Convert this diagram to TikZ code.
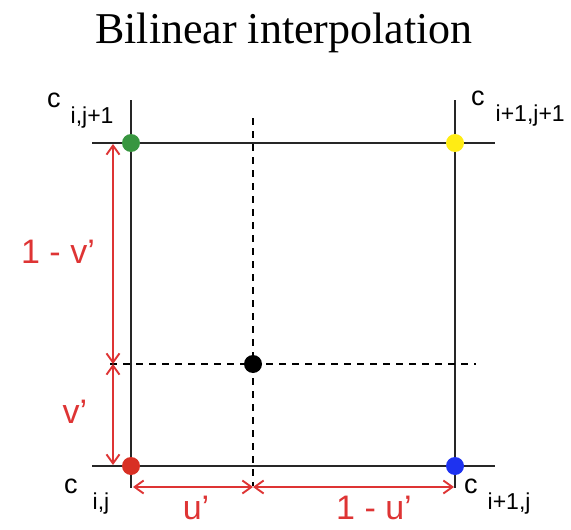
\documentclass[tikz,border=0pt]{standalone}
\usepackage{fontspec}
\setmainfont{Liberation Serif}
\newfontfamily\labelfont{Liberation Sans}
\usetikzlibrary{arrows.meta}
\definecolor{BIRed}{RGB}{222,52,52}
\definecolor{BIGreen}{RGB}{56,150,64}
\definecolor{BIYellow}{RGB}{255,236,20}
\definecolor{BIBlue}{RGB}{30,50,240}
\definecolor{BIDotRed}{RGB}{216,48,36}
\newcommand{\subidx}[2]{\hspace{#1}\raisebox{-16pt}{\fontsize{23}{24}\selectfont #2}}

\begin{document}
\begin{tikzpicture}[x=1pt,y=-1pt,
    gridline/.style={line width=2.8pt,black!85},
    guide/.style={line width=1.8pt,dash pattern=on 7pt off 6pt},
    dim/.style={<->,BIRed,line width=1.9pt},
    corner/.style={circle,inner sep=0pt,minimum size=18pt},
    dimlabel/.style={font=\labelfont\fontsize{34}{36}\selectfont,text=BIRed},
    cname/.style={anchor=base west,inner sep=0pt,font=\labelfont\fontsize{27}{28}\selectfont},
    >={Straight Barb[length=9pt,width=13pt]}]
      \useasboundingbox (0,0) rectangle (571,530);
      \node[anchor=base,font=\fontsize{44}{48}\selectfont] (title) at (284,43) {Bilinear interpolation};
      % grid lines
      \coordinate (lt) at (131,100);
      \coordinate (lb) at (131,488);
      \coordinate (rt) at (455,100);
      \coordinate (rb) at (455,488);
      \coordinate (tl) at (92,143);
      \coordinate (tr) at (495,143);
      \coordinate (bl) at (92,466);
      \coordinate (br) at (495,466);
      \draw[gridline] (lt) -- (lb);
      \draw[gridline] (rt) -- (rb);
      \draw[gridline] (tl) -- (tr);
      \draw[gridline] (bl) -- (br);
      % dashed guides
      \coordinate (gt) at (253,118);
      \coordinate (gb) at (253,486);
      \coordinate (gl) at (110,364);
      \coordinate (gr) at (476,364);
      \draw[guide] (gt) -- (gb);
      \draw[guide] (gl) -- (gr);
      % sample points
      \node[corner,fill=BIGreen] (c01) at (131,143) {};
      \node[corner,fill=BIYellow] (c11) at (455,143) {};
      \node[corner,fill=BIDotRed] (c00) at (131,466) {};
      \node[corner,fill=BIBlue] (c10) at (455,466) {};
      \node[corner,fill=black] (p) at (253,364) {};
      % point names
      \node[cname] (n01) at (47,107) {c\subidx{10pt}{i,j+1}};
      \node[cname] (n11) at (471,105) {c\subidx{11pt}{i+1,j+1}};
      \node[cname] (n00) at (64,493) {c\subidx{15pt}{i,j}};
      \node[cname] (n10) at (464,493) {c\subidx{10pt}{i+1,j}};
      % distances
      \coordinate (vt) at (113,144);
      \coordinate (vm) at (113,364);
      \coordinate (vb) at (113,465);
      \coordinate (ul) at (133,487);
      \coordinate (um) at (253,487);
      \coordinate (ur) at (454,487);
      \draw[dim] (vt) -- (vm);
      \draw[dim] (vm) -- (vb);
      \draw[dim] (ul) -- (um);
      \draw[dim] (um) -- (ur);
      \node[dimlabel] (lv1) at (58,252) {1 - v’};
      \node[dimlabel] (lv) at (75,412) {v’};
      \node[dimlabel] (lu) at (196,508) {u’};
      \node[dimlabel] (lu1) at (374,508) {1 - u’};
    \end{tikzpicture}
\end{document}
